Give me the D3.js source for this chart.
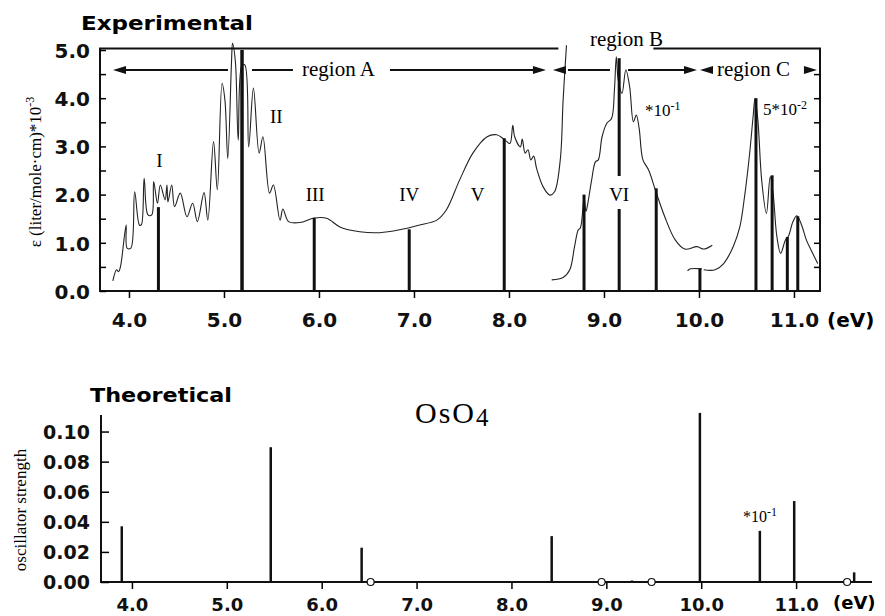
<!DOCTYPE html>
<html>
<head>
<meta charset="utf-8">
<script src="https://cdn.jsdelivr.net/npm/d3@7"></script>
<style>
  body { margin: 0; background: #fff; }
  svg { display: block; }
</style>
</head>
<body>
<svg id="chart" width="885" height="616"></svg>
<script>
// ---- Experimental spectrum (eV, epsilon * 10^-3) ----
const regionA = [
  [3.83, 0.21], [3.87, 0.44], [3.89, 0.40], [3.91, 0.50], [3.97, 1.37], [3.98, 0.89], [4.02, 0.89],
  [4.06, 2.06], [4.11, 1.37], [4.13, 1.37], [4.16, 2.34], [4.20, 1.58], [4.24, 1.58], [4.26, 2.27],
  [4.30, 1.82], [4.33, 2.20], [4.38, 1.89], [4.40, 2.20], [4.41, 1.85], [4.45, 2.20], [4.48, 1.75],
  [4.54, 2.03], [4.61, 1.54], [4.67, 1.82], [4.72, 1.44], [4.79, 2.04], [4.83, 1.47], [4.89, 3.10],
  [4.93, 2.10], [4.98, 4.31], [5.01, 3.96], [5.04, 2.75], [5.08, 4.79], [5.09, 5.14], [5.12, 4.76],
  [5.15, 3.13], [5.19, 4.69], [5.22, 4.69], [5.26, 2.99], [5.31, 4.21], [5.37, 2.86], [5.41, 3.20],
  [5.48, 2.03], [5.52, 2.20], [5.59, 1.47], [5.62, 1.70], [5.68, 1.44], [5.80, 1.42], [5.94, 1.51],
  [6.08, 1.51], [6.22, 1.33], [6.43, 1.23], [6.64, 1.21], [6.85, 1.27], [7.06, 1.37], [7.24, 1.47],
  [7.34, 1.68], [7.48, 2.30], [7.62, 2.86], [7.77, 3.20], [7.87, 3.24], [7.96, 3.13], [8.01, 3.06],
  [8.04, 3.44], [8.06, 3.20], [8.12, 2.99], [8.14, 3.15], [8.17, 2.86], [8.20, 2.93], [8.23, 2.72],
  [8.26, 2.80], [8.29, 2.55], [8.36, 2.16], [8.43, 1.99], [8.48, 2.06], [8.54, 2.72], [8.57, 3.96],
  [8.60, 4.93], [8.605, 5.10]
];
const regionB = [
  [8.45, 0.23], [8.57, 0.28], [8.64, 0.44], [8.69, 0.92], [8.73, 1.27], [8.75, 1.30], [8.78, 1.75],
  [8.79, 1.96], [8.81, 1.65], [8.83, 1.82], [8.87, 2.30], [8.91, 2.68], [8.94, 2.72], [8.98, 3.20],
  [9.03, 3.48], [9.08, 3.58], [9.11, 4.17], [9.13, 4.86], [9.15, 4.38], [9.19, 4.10], [9.23, 4.59],
  [9.27, 4.24], [9.31, 3.51], [9.34, 3.65], [9.37, 3.38], [9.41, 2.72], [9.47, 2.51], [9.54, 2.10],
  [9.64, 1.54], [9.75, 1.06], [9.85, 0.87], [9.98, 0.92], [10.05, 0.87], [10.14, 0.95]
];
const regionBtail = [[9.88, 0.42], [9.91, 0.46], [10.03, 0.46]];
const regionC = [
  [10.05, 0.44], [10.17, 0.44], [10.26, 0.57], [10.36, 0.92], [10.43, 1.33], [10.48, 1.96],
  [10.53, 2.79], [10.57, 3.62], [10.59, 4.00], [10.62, 3.55], [10.66, 2.30], [10.71, 1.61],
  [10.75, 2.37], [10.78, 2.03], [10.82, 1.13], [10.86, 0.78], [10.91, 1.06], [10.94, 1.13],
  [10.99, 1.44], [11.03, 1.56], [11.08, 1.37], [11.13, 1.06], [11.18, 0.85], [11.25, 0.57]
];
// assigned bands (eV, height)
const expSticks = [
  [4.31, 1.74], [5.19, 5.0], [5.95, 1.52], [6.95, 1.28], [7.95, 3.17], [8.79, 2.00], [9.16, 4.83],
  [9.55, 2.13], [10.01, 0.47], [10.60, 4.00], [10.77, 2.40], [10.93, 1.12], [11.04, 1.55]
];
const bandLabels = [
  ['I', 4.32, 2.70], ['II', 5.55, 3.61], ['III', 5.96, 2.0], ['IV', 6.95, 2.0], ['V', 7.67, 2.0], ['VI', 9.16, 2.0]
];
const expTicksX = [4, 5, 6, 7, 8, 9, 10, 11];
const expTicksY = [0, 0.5, 1, 1.5, 2, 2.5, 3, 3.5, 4, 4.5, 5];

// ---- Theoretical oscillator strengths ----
const theoLines = [
  [3.893, 0.037], [5.463, 0.0896], [6.421, 0.0228], [8.424, 0.0305], [9.27, 0.001],
  [9.986, 0.1124], [10.618, 0.034], [10.98, 0.0538], [11.612, 0.0064]
];
const theoZero = [6.516, 8.95, 9.477, 11.538];
const theoTicksX = [4, 5, 6, 7, 8, 9, 10, 11];
const theoTicksY = [0, 0.02, 0.04, 0.06, 0.08, 0.10];

const svg = d3.select('#chart');
const INK = '#111';
const numFont = '"DejaVu Sans", Arial, sans-serif';
const serif = '"Liberation Serif", "Times New Roman", serif';

// ================= Experimental panel =================
const xTop = d3.scaleLinear().domain([3.695, 11.274]).range([100, 820]);
const yTop = d3.scaleLinear().domain([0, 5]).range([291, 50]);

const line = d3.line()
  .x(d => xTop(d[0]))
  .y(d => yTop(d[1]))
  .curve(d3.curveCatmullRom.alpha(0.5));

[regionA, regionB, regionBtail, regionC].forEach(c => {
  svg.append('path')
    .attr('d', line(c))
    .attr('fill', 'none')
    .attr('stroke', '#222')
    .attr('stroke-width', 1.1);
});

svg.append('g').selectAll('line')
  .data(expSticks)
  .join('line')
  .attr('x1', d => xTop(d[0])).attr('x2', d => xTop(d[0]))
  .attr('y1', yTop(0)).attr('y2', d => yTop(d[1]))
  .attr('stroke', INK)
  .attr('stroke-width', d => d[1] >= 4.9 ? 3.5 : 3);

// frame
const frame = svg.append('g').attr('stroke', INK).attr('stroke-width', 2);
frame.append('line').attr('x1', 100).attr('x2', 100).attr('y1', 48).attr('y2', 292);
frame.append('line').attr('x1', 99).attr('x2', 821).attr('y1', 291).attr('y2', 291);
frame.append('line').attr('x1', 820).attr('x2', 820).attr('y1', 48).attr('y2', 292);
frame.append('line').attr('x1', 99).attr('x2', xTop(8.52)).attr('y1', 48.5).attr('y2', 48.5);
frame.append('line').attr('x1', xTop(9.52)).attr('x2', 821).attr('y1', 48.5).attr('y2', 48.5);

// axes
const gxTop = svg.append('g')
  .attr('transform', 'translate(0,291)')
  .call(d3.axisBottom(xTop).tickValues(expTicksX).tickFormat(d3.format('.1f')).tickSizeInner(7).tickSizeOuter(0));
gxTop.select('.domain').remove();
gxTop.selectAll('line').attr('stroke-width', 1.5);
gxTop.selectAll('text')
  .attr('y', 36).attr('dy', null)
  .style('font-family', numFont).style('font-weight', 'bold').style('font-size', '20px').attr('fill', INK);

const gyTop = svg.append('g')
  .attr('transform', 'translate(100,0)')
  .call(d3.axisLeft(yTop).tickValues(expTicksY)
    .tickFormat(d => Number.isInteger(d) ? d.toFixed(1) : '')
    .tickSizeInner(-6).tickSizeOuter(0).tickPadding(10));
gyTop.select('.domain').remove();
gyTop.selectAll('line').attr('stroke-width', 1.5);
gyTop.selectAll('text')
  .attr('dy', '0.36em')
  .style('font-family', numFont).style('font-weight', 'bold').style('font-size', '20px').attr('fill', INK);

const gyRight = svg.append('g')
  .attr('transform', 'translate(820,0)')
  .call(d3.axisLeft(yTop).tickValues(expTicksY.filter(v => v > 0 && v < 5)).tickFormat('').tickSizeInner(6).tickSizeOuter(0));
gyRight.select('.domain').remove();
gyRight.selectAll('line').attr('stroke-width', 1.5);

svg.append('text')
  .attr('x', 827).attr('y', 327)
  .style('font-family', numFont).style('font-weight', 'bold').style('font-size', '20px')
  .text('(eV)');

svg.append('text')
  .attr('x', 81).attr('y', 30)
  .attr('textLength', 172).attr('lengthAdjust', 'spacingAndGlyphs')
  .style('font-family', numFont).style('font-weight', 'bold').style('font-size', '19px')
  .text('Experimental');

const yLab = svg.append('text')
  .attr('transform', 'translate(41,172) rotate(-90)')
  .attr('text-anchor', 'middle')
  .style('font-family', serif).style('font-size', '17px');
yLab.append('tspan').text('ε (liter/mole·cm)*10');
yLab.append('tspan').attr('dy', -7).style('font-size', '12px').text('-3');

// region arrows
const arrowY = 70;
const arrows = svg.append('g').attr('stroke', INK).attr('fill', INK);
[[3.90, 5.042], [5.295, 5.726], [6.747, 8.32], [8.53, 8.568], [8.621, 9.063], [9.253, 9.91]].forEach(s => {
  arrows.append('line')
    .attr('x1', xTop(s[0])).attr('x2', xTop(s[1]))
    .attr('y1', arrowY).attr('y2', arrowY).attr('stroke-width', 2);
});
function head(ev, dir) {
  const t = xTop(ev), b = t - dir * 13;
  arrows.append('path')
    .attr('d', `M${t},${arrowY}L${b},${arrowY - 4}L${b},${arrowY + 4}Z`)
    .attr('stroke', 'none');
}
head(3.832, -1); head(8.389, 1); head(8.463, -1); head(9.979, 1); head(10.011, -1); head(11.242, 1);

function serifText(x, y, s, size) {
  return svg.append('text').attr('x', x).attr('y', y)
    .style('font-family', serif).style('font-size', (size || 21) + 'px').text(s);
}
serifText(302, 76, 'region A');
serifText(590, 46, 'region B');
serifText(717, 76, 'region C');

// VI cuts its band line
const vi = bandLabels.find(b => b[0] === 'VI');
svg.append('rect')
  .attr('x', xTop(vi[1]) - 13).attr('y', 176)
  .attr('width', 26).attr('height', 33).attr('fill', '#fff');

svg.append('g').selectAll('text')
  .data(bandLabels)
  .join('text')
  .attr('x', d => xTop(d[1]))
  .attr('y', d => yTop(d[2]) + 6)
  .attr('text-anchor', 'middle')
  .style('font-family', serif).style('font-size', '19px')
  .text(d => d[0]);

const s1 = serifText(645, 116, '*10', 17);
s1.append('tspan').attr('dy', -6).style('font-size', '12px').text('-1');
const s2 = serifText(763, 115, '5*10', 17);
s2.append('tspan').attr('dy', -6).style('font-size', '12px').text('-2');

// ================= Theoretical panel =================
const xBot = d3.scaleLinear().domain([3.674, 11.80]).range([101, 872]);
const yBot = d3.scaleLinear().domain([0, 0.111]).range([582, 415]);

svg.append('g').selectAll('line')
  .data(theoLines)
  .join('line')
  .attr('x1', d => xBot(d[0])).attr('x2', d => xBot(d[0]))
  .attr('y1', yBot(0)).attr('y2', d => yBot(d[1]))
  .attr('stroke', INK).attr('stroke-width', 2.5);

svg.append('line').attr('x1', 101).attr('x2', 101).attr('y1', 415).attr('y2', 583)
  .attr('stroke', INK).attr('stroke-width', 2);
svg.append('line').attr('x1', 100).attr('x2', 872).attr('y1', 582).attr('y2', 582)
  .attr('stroke', INK).attr('stroke-width', 2);

const gxBot = svg.append('g')
  .attr('transform', 'translate(0,582)')
  .call(d3.axisBottom(xBot).tickValues(theoTicksX).tickFormat(d3.format('.1f')).tickSizeInner(7).tickSizeOuter(0));
gxBot.select('.domain').remove();
gxBot.selectAll('line').attr('stroke-width', 1.5);
gxBot.selectAll('text')
  .attr('y', 29).attr('dy', null)
  .style('font-family', numFont).style('font-weight', 'bold').style('font-size', '18px').attr('fill', INK);

const gyBot = svg.append('g')
  .attr('transform', 'translate(101,0)')
  .call(d3.axisLeft(yBot).tickValues(theoTicksY).tickFormat(d3.format('.2f'))
    .tickSizeInner(-8).tickSizeOuter(0).tickPadding(11));
gyBot.select('.domain').remove();
gyBot.selectAll('line').attr('stroke-width', 1.5);
gyBot.selectAll('text')
  .attr('dy', '0.36em')
  .style('font-family', numFont).style('font-weight', 'bold').style('font-size', '19px').attr('fill', INK);

svg.append('g').selectAll('circle')
  .data(theoZero)
  .join('circle')
  .attr('cx', d => xBot(d)).attr('cy', yBot(0)).attr('r', 3.5)
  .attr('fill', '#fff').attr('stroke', INK).attr('stroke-width', 1.2);

svg.append('text')
  .attr('x', 833).attr('y', 609)
  .style('font-family', numFont).style('font-weight', 'bold').style('font-size', '18px')
  .text('(eV)');

svg.append('text')
  .attr('x', 90).attr('y', 402)
  .attr('textLength', 142).attr('lengthAdjust', 'spacingAndGlyphs')
  .style('font-family', numFont).style('font-weight', 'bold').style('font-size', '20px')
  .text('Theoretical');

svg.append('text')
  .attr('transform', 'translate(26,510) rotate(-90)')
  .attr('text-anchor', 'middle')
  .style('font-family', serif).style('font-size', '17px')
  .text('oscillator strength');

const os = svg.append('text')
  .attr('x', 415).attr('y', 423)
  .style('font-family', serif).style('font-size', '30px').style('letter-spacing', '2px')
  .text('OsO');
os.append('tspan').attr('dy', 3).style('font-size', '25px').text('4');

const s3 = serifText(743, 522, '*10', 16);
s3.append('tspan').attr('dy', -6).style('font-size', '12px').text('-1');
</script>
</body>
</html>
